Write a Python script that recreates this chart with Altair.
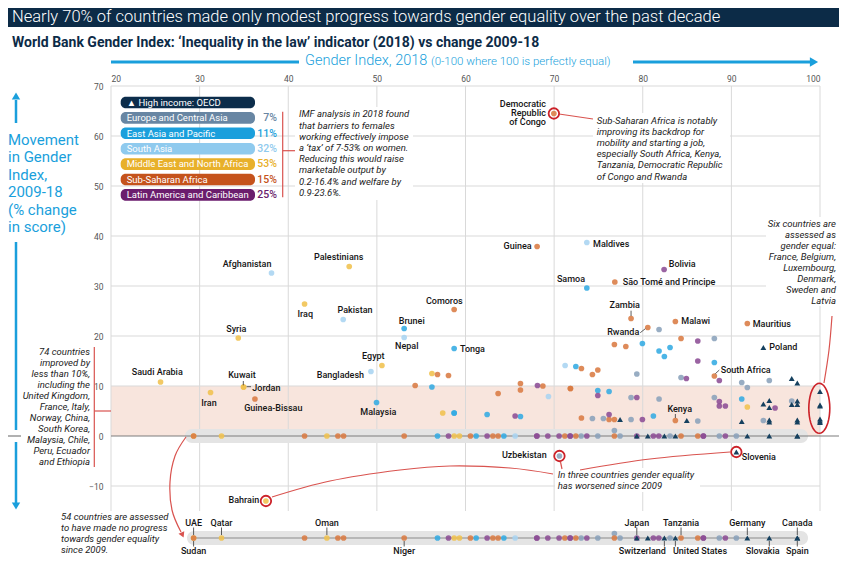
import altair as alt
import numpy as np
import pandas as pd

# ===================== DATA =====================
# x = World Bank Gender Index 2018 (0-100), y = % change 2009-18
regions = ["High income: OECD", "Europe and Central Asia", "East Asia and Pacific",
           "South Asia", "Middle East and North Africa", "Sub-Saharan Africa",
           "Latin America and Caribbean"]
shares = ["", "7%", "11%", "32%", "53%", "15%", "25%"]

oecd_x = [93.61, 90.56, 96.81, 97.44, 93.61, 94.28, 94.28, 97.44, 96.81, 97.44,
          77.44, 84.97, 91.17, 94.28, 94.28, 97.44, 97.44,
          100, 100, 100, 100, 100, 100,
          79.33, 80.57, 82.44, 83.68, 91.80, 94.28, 97.44, 97.44]
oecd_y = [17.7, -3.2, 11.5, 10.6, 6.4, 7.1, 5.7, 7.0, 6.3, 6.3,
          3.3, 3.1, 2.9, 3.2, 2.8, 3.2, 2.8,
          8.9, 6.2, 6.0, 3.4, 3.0, 2.7,
          0, 0, 0, 0, 0, 0, 0, 0]

europe_x = [70.60, 88.08, 79.33, 84.32, 91.17, 91.80, 94.28, 81.84, 78.68, 81.84,
            88.08, 96.81, 74.32, 75.56, 78.68, 86.21, 93.61,
            73.05, 74.93, 76.80, 77.44, 83.08, 88.64, 90.56]
europe_y = [-4.0, 19.5, 12.4, 11.7, 10.7, 9.7, 11.1, 21.3, 7.7, 7.4,
            7.7, 7.0, 3.5, 3.5, 3.3, 3.0, 3.1,
            0, 0, 1.1, 0, 0, 0, 0]

eastasia_x = [73.69, 58.72, 53.08, 49.96, 79.96, 81.84, 82.44, 83.08, 88.08, 72.45,
              74.93, 76.20, 56.21, 58.72, 58.72, 62.44, 66.20, 81.20, 91.17,
              56.84, 61.20, 64.33]
eastasia_y = [29.6, 17.5, 21.5, 6.7, 18.5, 17.0, 15.9, 17.7, 14.7, 13.9,
              9.1, 8.9, 9.8, 4.6, 4.6, 4.3, 3.9, 4.0, 7.4,
              0, 0, 0]

southasia_x = [38.11, 46.20, 53.08, 49.33, 73.69, 71.24, 69.36, 65.60]
southasia_y = [32.6, 23.3, 19.7, 12.9, 38.7, 14.1, 7.9, 0]

mena_x = [25.59, 31.23, 34.96, 34.96, 34.36, 41.84, 46.88, 50.57, 37.48, 56.21,
          57.43, 91.80, 29.32, 32.47, 44.36, 58.72, 59.32]
mena_y = [10.8, 8.7, 9.8, 9.8, 19.6, 26.4, 33.9, 14.1, -13.0, 12.5,
          4.6, 5.8, 0, 0, 0, 0, 0]

ssa_x = [69.97, 68.08, 76.85, 58.72, 78.68, 80.57, 83.68, 91.80, 88.08, 83.68,
         36.24, 76.80, 78.09, 84.32, 73.08, 74.32, 74.93, 56.84, 58.08, 54.32,
         66.20, 66.20, 63.68, 68.73, 71.84, 71.84, 73.08, 76.20, 76.80,
         29.32, 41.84, 45.60, 46.24, 53.08, 60.56, 63.09, 63.68, 71.21, 72.45,
         76.80, 84.32, 86.21]
ssa_y = [64.5, 37.9, 30.8, 25.3, 23.5, 21.7, 22.9, 22.5, 12.0, 3.1,
         7.4, 18.3, 17.9, 19.5, 13.5, 12.3, 13.2, 12.3, 12.1, 10.1,
         10.5, 9.2, 8.5, 10.0, 9.5, 9.5, 3.6, 3.3, 3.3,
         0, 0, 0, 0, 0, 0, 0, 0, 0, 0,
         0, 0, 0]

latam_x = [82.41, 86.21, 86.21, 88.64, 84.92, 68.12, 74.93, 79.33, 88.64, 88.64,
           89.32, 94.93, 65.60, 76.20, 79.96,
           58.08, 62.44, 68.05, 68.05, 69.29, 70.56, 71.81, 71.81, 73.69, 79.33,
           81.20, 81.81, 86.84, 86.84, 89.32]
latam_y = [33.3, 19.0, 15.0, 11.1, 11.5, 10.1, 8.1, 7.7, 6.9, 6.0,
           6.0, 5.6, 4.0, 4.3, 3.3,
           0, 0, 0, 0, 0, 0, 0, 0, 0, 0,
           0, 0, 0, 0, 0]

# labelled countries
lab_text = ["Guinea", "Uzbekistan", "Bangladesh", "Rwanda", "Bahrain",
            "Maldives", "Bolivia", "São Tomé and Príncipe", "Malawi", "Mauritius",
            "Poland", "South Africa", "Slovenia", "Tonga", "Jordan",
            "Samoa", "Zambia", "Kenya", "Comoros", "Brunei", "Nepal", "Egypt",
            "Pakistan", "Iraq", "Palestinians", "Afghanistan", "Syria", "Kuwait",
            "Guinea-Bissau", "Iran", "Saudi Arabia", "Malaysia",
            "Democratic", "Republic", "of Congo"]
lab_x = [67.47, 69.16, 48.55, 79.61, 36.73,
         74.39, 82.93, 77.74, 84.35, 92.41,
         94.28, 88.80, 91.17, 59.38, 35.94,
         71.90, 77.96, 84.17, 57.61, 53.93, 53.37, 49.60,
         47.53, 41.92, 45.69, 35.35, 34.14, 34.78,
         38.31, 31.06, 25.22, 50.16,
         69.08, 69.08, 69.08]
lab_y = [38.0, -3.8, 12.26, 20.8, -12.86,
         38.4, 34.46, 30.8, 23.0, 22.46,
         17.74, 13.2, -4.14, 17.46, 9.66,
         31.46, 26.26, 5.4, 27.06, 23.06, 18.0, 16.0,
         25.2, 24.4, 35.74, 34.46, 21.46, 12.26,
         5.66, 6.6, 12.8, 4.86,
         66.4, 64.6, 62.8]
lab_align = (["right"] * 5 + ["left"] * 10 + ["center"] * 17 + ["right"] * 3)

# leader lines of labels
lead_x = [78.68, 79.72, 88.19, 83.68, 34.93, 35.31]
lead_y = [25.06, 20.66, 12.46, 4.4, 11.0, 9.86]
lead_x2 = [78.68, 80.29, 88.64, 83.68, 34.93, 35.80]
lead_y2 = [24.0, 21.46, 13.2, 3.6, 10.14, 9.86]

# circled countries: DR Congo, Bahrain, Uzbekistan, Slovenia
circ_x = [69.97, 37.48, 70.60, 90.56]
circ_y = [64.5, -13.0, -4.0, -3.2]

# countries named in the 'no progress' strip
strip_top_t = ["UAE", "Qatar", "Oman", "Japan", "Tanzania", "Germany", "Canada"]
strip_top_x = [29.32, 32.47, 44.36, 79.33, 84.32, 91.80, 97.44]
strip_bot_t = ["Sudan", "Niger", "Switzerland", "United States", "Slovakia", "Spain"]
strip_bot_x = [29.32, 53.08, 79.95, 86.46, 93.53, 97.44]
strip_bot_lead = [29.32, 53.08, 82.44, 83.68, 94.28, 97.44]

# ===================== STYLE =====================
FONT = "Roboto"
BLUE = "#1a9fdc"
RED = "#d9534f"
RING = "#cc2229"
NAVY = "#0c2b47"
legend_colors = ["#0c2d4b", "#6886a3", "#1b9fdc", "#8fcaee", "#e8b02a", "#c5531c", "#6b1d6d"]
point_colors = ["#15405f", "#8aa2bb", "#33abe2", "#a8d4f1", "#f0c24f", "#d97b43", "#8c4d95"]

X0, KX = 111.0, 709 / 80


def px(p):
    return 20 + (p - X0) / KX


def py(p):
    return (436.0 - p) / 5.0


XS = alt.Scale(domain=[20, 100], nice=False, zero=False)
YS = alt.Scale(domain=[-24, 70], nice=False, zero=False)
AX = alt.Axis(orient="top", values=list(range(20, 101, 10)), grid=False, domain=False,
              ticks=False, labelFont=FONT, labelFontSize=8.5, labelColor="#555",
              labelPadding=3, title=None)
AY = alt.Axis(orient="left", values=list(range(-10, 71, 10)), grid=False, domain=False,
              ticks=False, labelFont=FONT, labelFontSize=8.5, labelColor="#555",
              labelPadding=8, title=None)


def ex(f="x"):
    return alt.X(f"{f}:Q", scale=XS, axis=AX)


def ey(f="y"):
    return alt.Y(f"{f}:Q", scale=YS, axis=AY)


def prect(x1, x2, y1, y2, color, radius=0):
    d = pd.DataFrame({"x": [px(x1)], "x2": [px(x2)], "y": [py(y1)], "y2": [py(y2)]})
    return alt.Chart(d).mark_rect(color=color, cornerRadius=radius).encode(
        x=ex(), x2="x2:Q", y=ey(), y2="y2:Q")


def pblock(lines, x, y0, step, align="left", size=9.5, color="#222", style="normal",
           weight="normal"):
    d = pd.DataFrame({"t": lines, "x": [px(x)] * len(lines),
                      "y": [py(y0 + i * step) for i in range(len(lines))]})
    return alt.Chart(d).mark_text(align=align, baseline="middle", font=FONT, fontSize=size,
                                  color=color, fontStyle=style, fontWeight=weight).encode(
        x=ex(), y=ey(), text="t:N")


def pline(pts, color, width, interp="linear"):
    d = pd.DataFrame({"x": [px(a) for a, _ in pts], "y": [py(b) for _, b in pts],
                      "o": list(range(len(pts)))})
    return alt.Chart(d).mark_line(color=color, strokeWidth=width, interpolate=interp).encode(
        x=ex(), y=ey(), order="o:Q")


def pmark(x, y, shape, size, color, angle=0, filled=True, sw=1.0):
    d = pd.DataFrame({"x": [px(x)], "y": [py(y)]})
    return alt.Chart(d).mark_point(shape=shape, size=size, filled=filled, angle=angle,
                                   opacity=1, color=color, strokeWidth=sw).encode(x=ex(), y=ey())


# ===================== TABLES =====================
series = [(oecd_x, oecd_y), (europe_x, europe_y), (eastasia_x, eastasia_y),
          (southasia_x, southasia_y), (mena_x, mena_y), (ssa_x, ssa_y), (latam_x, latam_y)]
rows = []
for r, (xs, ys) in zip(regions, series):
    for a, b in zip(xs, ys):
        rows.append({"region": r, "x": a, "y": b})
pts = pd.DataFrame(rows)
zero = pts[(pts["y"].abs() < 1.5) & (pts["x"] < 100)].copy()

labels = pd.DataFrame({"t": lab_text, "x": lab_x, "y": lab_y, "a": lab_align})
leads = pd.DataFrame({"x": lead_x, "y": lead_y, "x2": lead_x2, "y2": lead_y2})
circs = pd.DataFrame({"x": circ_x, "y": circ_y})

layers = []

# ---- header ----
layers.append(prect(0, 847, 0, 27, NAVY))
layers.append(pblock(["Nearly 70% of countries made only modest progress towards gender equality over the past decade"],
                     12, 17, 0, size=16.5, color="white", weight=300))
layers.append(pblock(["World Bank Gender Index: \u2018Inequality in the law\u2019 indicator (2018) vs change 2009-18"],
                     12, 43, 0, size=14, color=NAVY, weight="bold"))
layers.append(pline([(111, 62), (299, 62)], BLUE, 3))
layers.append(pline([(633, 62), (811, 62)], BLUE, 3))
layers.append(pmark(814, 62, "triangle-right", 90, BLUE))
layers.append(pblock(["Gender Index, 2018"], 305, 61, 0, size=14.5, color=BLUE, weight=300))
layers.append(pblock(["(0-100 where 100 is perfectly equal)"], 431, 62, 0, size=11.5, color=BLUE, weight=300))

# ---- left vertical title ----
layers.append(pblock(["Movement", "in Gender", "Index,", "2009-18", "(% change", "in score)"],
                     8, 140, 17.4, size=15, color=BLUE, weight="normal"))
layers.append(pline([(16, 100), (16, 123)], BLUE, 2.5))
layers.append(pmark(16, 96, "triangle-up", 70, BLUE))
layers.append(pline([(16, 242), (16, 430)], BLUE, 2.5))
layers.append(pline([(16, 442), (16, 503)], BLUE, 2.5))
layers.append(pmark(16, 506, "triangle-down", 70, BLUE))

# ---- background bands and grid ----
band = pd.DataFrame({"x": [20], "x2": [100], "y": [0], "y2": [10]})
layers.append(alt.Chart(band).mark_rect(color="#f8e5dd").encode(x=ex(), x2="x2:Q", y=ey(), y2="y2:Q"))
vg = pd.DataFrame({"x": list(range(20, 101, 10)), "y": -15, "y2": 70})
layers.append(alt.Chart(vg).mark_rule(color="#d9d9d9", strokeWidth=1).encode(x=ex(), y=ey(), y2="y2:Q"))
hg = pd.DataFrame({"y": list(range(-10, 71, 10)), "x": 20, "x2": 100})
hg = hg[hg["y"] != 0]
layers.append(alt.Chart(hg).mark_rule(color="#d9d9d9", strokeWidth=1).encode(x=ex(), x2="x2:Q", y=ey()))
layers.append(prect(185, 808, 429, 443, "#e4e4e4", radius=7))
layers.append(pline([(111, 436), (839, 436)], "#7d7d7d", 1.2))
layers.append(pline([(8, 436), (21, 436)], "#7d7d7d", 1.2))
layers.append(prect(187, 808, 531, 545, "#e4e4e4", radius=7))
layers.append(pline([(191, 538), (800, 538)], "#8a8a8a", 1.2))

# ---- annotation text blocks ----
layers.append(prect(295, 413, 107, 200, "white"))
layers.append(pblock(["IMF analysis in 2018 found", "that barriers to females",
                      "working effectively impose", "a \u2018tax\u2019 of 7-53% on women.",
                      "Reducing this would raise", "marketable output by",
                      "0.2-16.4% and welfare by", "0.9-23.6%."],
                     299, 114.3, 11.2, style="italic"))
layers.append(prect(593, 730, 113, 183, "white"))
layers.append(pblock(["Sub-Saharan Africa is notably", "improving its backdrop for",
                      "mobility and starting a job,", "especially South Africa, Kenya,",
                      "Tanzania, Democratic Republic", "of Congo and Rwanda"],
                     596.7, 121, 11.1, style="italic"))
layers.append(prect(766, 839, 217, 306, "white"))
layers.append(pblock(["Six countries are", "assessed as", "gender equal:", "France, Belgium,",
                      "Luxembourg,", "Denmark,", "Sweden and", "Latvia"],
                     836, 224, 10.96, align="right", style="italic"))
layers.append(prect(555, 700, 468, 492, "white"))
layers.append(pblock(["In three countries gender equality", "has worsened since 2009"],
                     557.7, 475, 10.5, style="italic"))
layers.append(pblock(["74 countries", "improved by", "less than 10%,", "including the",
                      "United Kingdom,", "France, Italy,", "Norway, China,", "South Korea,",
                      "Malaysia, Chile,", "Peru, Ecuador", "and Ethiopia"],
                     90, 351.7, 11, align="right", style="italic"))
layers.append(pblock(["54 countries are assessed", "to have made no progress",
                      "towards gender equality", "since 2009."],
                     61, 517, 11, style="italic"))

# ---- legend ----
leg = pd.DataFrame({"name": ["\u25B2 " + regions[0]] + regions[1:], "share": shares,
                    "c": legend_colors})
idx = np.arange(len(leg))
leg["x"] = px(120.7)
leg["x2"] = px(255)
leg["y"] = [py(96.7 + 15.4 * i) for i in idx]
leg["y2"] = [py(96.7 + 15.4 * i + 11.6) for i in idx]
leg["ty"] = [py(96.7 + 15.4 * i + 6.0) for i in idx]
leg["tx"] = px(126.7)
leg["sx"] = px(277)
layers.append(alt.Chart(leg).mark_rect(cornerRadius=5).encode(
    x=ex(), x2="x2:Q", y=ey(), y2="y2:Q", color=alt.Color("c:N", scale=None)))
layers.append(alt.Chart(leg).mark_text(align="left", baseline="middle", font=FONT, fontSize=9.5,
                                       color="white").encode(x=ex("tx"), y=ey("ty"), text="name:N"))
layers.append(alt.Chart(leg).mark_text(align="right", baseline="middle", font=FONT, fontSize=10.5,
                                       fontWeight=500).encode(
    x=ex("sx"), y=ey("ty"), text="share:N", color=alt.Color("c:N", scale=None)))

# ---- red brackets and connectors ----
layers.append(pline([(282.7, 111.7), (282.7, 197.3)], RED, 1.2))
layers.append(pline([(282.7, 150.7), (295, 150.7)], RED, 1.2))
layers.append(pline([(94.3, 347), (94.3, 467)], RED, 1.2))
layers.append(pline([(94.3, 411), (111, 411)], RED, 1.2))
layers.append(pline([(559, 114), (593, 119)], RED, 1.2))
layers.append(pline([(272, 497), (330, 481), (400, 470), (450, 466), (510, 468), (553, 474)],
                    RED, 1.2, "cardinal"))
layers.append(pline([(560.5, 462), (562, 469)], RED, 1.2))
layers.append(pline([(580, 470), (650, 459), (730, 452)], RED, 1.2, "cardinal"))
layers.append(pline([(186, 437), (175, 456), (170, 482), (172, 510), (181, 532)], RED, 1.2, "cardinal"))
layers.append(pmark(182.5, 535, "triangle-down", 40, RED, angle=336))
layers.append(pline([(824, 383), (829, 350), (832, 316)], RED, 1.2, "cardinal"))

# ---- points ----
COL = alt.Color("region:N", scale=alt.Scale(domain=regions, range=point_colors), legend=None)
circ_pts = pts[pts["region"] != regions[0]]
tri_pts = pts[pts["region"] == regions[0]]
layers.append(alt.Chart(circ_pts).mark_point(filled=True, size=32, opacity=0.88, shape="circle").encode(
    x=ex(), y=ey(), color=COL))
layers.append(alt.Chart(tri_pts).mark_point(filled=True, size=34, opacity=1, shape="triangle-up",
                                            color=point_colors[0]).encode(x=ex(), y=ey()))
zc = zero[zero["region"] != regions[0]]
zt = zero[zero["region"] == regions[0]]
layers.append(alt.Chart(zc).transform_calculate(ys="-20.4 + datum.y * 0.8").mark_point(
    filled=True, size=32, opacity=0.88, shape="circle").encode(x=ex(), y=ey("ys"), color=COL))
layers.append(alt.Chart(zt).transform_calculate(ys="-20.4 + datum.y * 0.8").mark_point(
    filled=True, size=34, opacity=1, shape="triangle-up", color=point_colors[0]).encode(
    x=ex(), y=ey("ys")))

# ---- labels ----
for al in ["left", "center", "right"]:
    layers.append(alt.Chart(labels[labels["a"] == al]).mark_text(
        align=al, baseline="middle", font=FONT, fontSize=9, fontWeight=500, color="#151515").encode(
        x=ex(), y=ey(), text="t:N"))
layers.append(alt.Chart(leads).mark_rule(color="#333", strokeWidth=0.8).encode(
    x=ex(), y=ey(), x2="x2:Q", y2="y2:Q"))

st = pd.DataFrame({"t": strip_top_t, "x": strip_top_x})
st["y"] = py(523)
st["l1"] = py(527.5)
st["l2"] = py(535)
sb = pd.DataFrame({"t": strip_bot_t, "x": strip_bot_x, "lx": strip_bot_lead})
sb["y"] = py(551)
sb["l1"] = py(541)
sb["l2"] = py(546.5)
layers.append(alt.Chart(st).mark_rule(color="#333", strokeWidth=0.8).encode(x=ex(), y=ey("l1"), y2="l2:Q"))
layers.append(alt.Chart(sb).mark_rule(color="#333", strokeWidth=0.8).encode(x=ex("lx"), y=ey("l1"), y2="l2:Q"))
layers.append(alt.Chart(st).mark_text(align="center", baseline="middle", font=FONT, fontSize=9,
                                      fontWeight=500, color="#151515").encode(x=ex(), y=ey(), text="t:N"))
layers.append(alt.Chart(sb).mark_text(align="center", baseline="middle", font=FONT, fontSize=9,
                                      fontWeight=500, color="#151515").encode(x=ex(), y=ey(), text="t:N"))

# ---- red rings ----
layers.append(alt.Chart(circs).mark_point(shape="circle", size=110, filled=False, color=RING,
                                          strokeWidth=1.8, opacity=1).encode(x=ex(), y=ey()))
ts = np.linspace(0, 2 * np.pi, 41)[:-1]
ELL = "M " + " L ".join(f"{0.42 * np.cos(t):.3f} {np.sin(t):.3f}" for t in ts) + " Z"
layers.append(pmark(819.3, 408.3, ELL, 2500, RING, filled=False, sw=1.6))

chart = alt.layer(*layers).properties(
    width=709, height=470,
    autosize=alt.AutoSizeParams(type="none"),
    padding={"left": 103, "top": 78, "right": 19, "bottom": 0},
    background="white",
).configure_view(stroke=None)

chart.save("out.html", embed_options={"renderer": "svg", "actions": False})
